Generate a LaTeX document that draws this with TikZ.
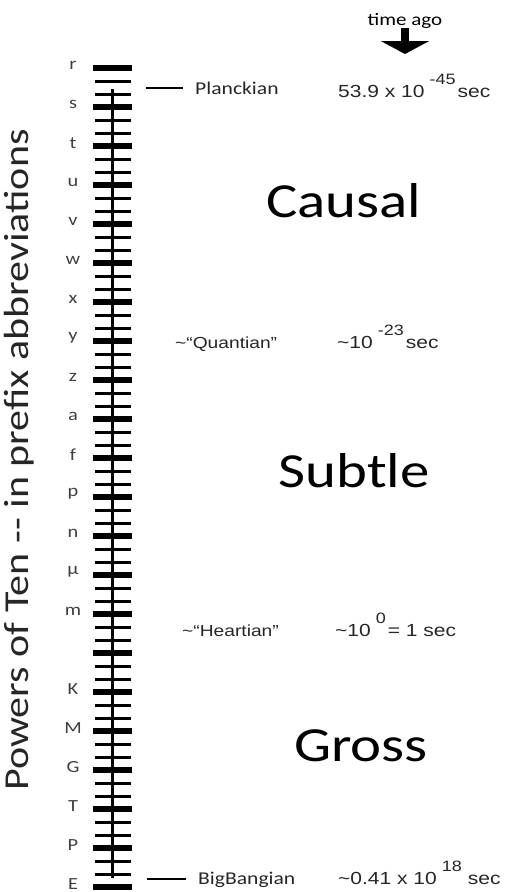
\documentclass[tikz,border=0pt]{standalone}
\usepackage{fontspec}
\newfontfamily\calfont[FakeStretch=1.2]{Carlito}
\newfontfamily\arifont[FakeStretch=1.2]{Liberation Sans}
\usetikzlibrary{arrows.meta}
\newcommand{\expo}[1]{\hspace{5pt}\raisebox{13pt}{\fontsize{15}{15}\selectfont #1}\hspace{2pt}}

\begin{document}
\begin{tikzpicture}[
    x=1pt, y=-1pt,
    major/.style   = {line width=6pt},
    minor/.style   = {line width=3pt},
    spine/.style   = {line width=3pt},
    letterlab/.style = {font=\fontsize{17}{17}\calfont, text=black!75, inner sep=0pt},
    era/.style     = {font=\fontsize{49}{49}\calfont, inner sep=0pt},
    epoch/.style   = {font=\fontsize{18}{18}\calfont, text=black!85, anchor=base west, inner sep=0pt},
    approx/.style  = {font=\fontsize{16}{16}\arifont, text=black!85, anchor=base west, inner sep=0pt},
    timeval/.style = {font=\fontsize{17.5}{17.5}\arifont, text=black!85, anchor=base west, inner sep=0pt},
    lead/.style    = {line width=2pt, shorten >=12pt},
    down/.style    = {line width=8pt, -{Triangle[width=48pt,length=13pt]}},
]
\useasboundingbox (0,0) rectangle (521,892);

% scale
\foreach \p [count=\k from 0] in {r,s,t,u,v,w,x,y,z,a,f,p,n,μ,m,{},K,M,G,T,P,E} {
  \node[letterlab] (pre\k) at (73,65+39*\k) {\p};
  \draw[major] (93,68+39*\k) -- (132,68+39*\k);
}
\foreach \k in {0,...,20} {
  \draw[minor] (95,81+39*\k) -- (131,81+39*\k);
  \draw[minor] (95,94+39*\k) -- (131,94+39*\k);
}
\draw[spine] (112,89) -- (112,878);

\node[rotate=90, font=\fontsize{35}{35}\calfont, text=black!85, inner sep=0pt] (axis) at (19,460)
  {Powers of Ten -{}- in prefix abbreviations};

% time arrow
\node[font=\fontsize{17.5}{17.5}\calfont, anchor=base, inner sep=0pt] (ago) at (405,25) {time ago};
\coordinate (agotip) at (405,54);
\draw[down] (ago.south) -- (agotip);

% eras
\node[era] (causal) at (344,201) {Causal};
\node[era] (subtle) at (354,471) {Subtle};
\node[era] (gross)  at (361,746) {Gross};

% epochs
\node[epoch]  (planck) at (195,94)  {Planckian};
\node[approx] (quant)  at (175,348) {\textasciitilde“Quantian”};
\node[approx] (heart)  at (182,636) {\textasciitilde“Heartian”};
\node[epoch]  (bang)   at (198,884) {BigBangian};
\coordinate (ptick) at (146,88);
\coordinate (btick) at (147,879);
\draw[lead] (ptick) -- (ptick -| planck.west);
\draw[lead] (btick) -- (btick -| bang.west);

% times
\node[timeval] (tplanck) at (338,97)  {53.9 x 10\expo{-45}sec};
\node[timeval] (tquant)  at (337,348) {\textasciitilde10\expo{-23}sec};
\node[timeval] (theart)  at (335,636) {\textasciitilde10\expo{0}= 1 sec};
\node[timeval] (tbang)   at (338,884) {\textasciitilde0.41 x 10\expo{18}\hspace{4pt}sec};
\end{tikzpicture}
\end{document}
